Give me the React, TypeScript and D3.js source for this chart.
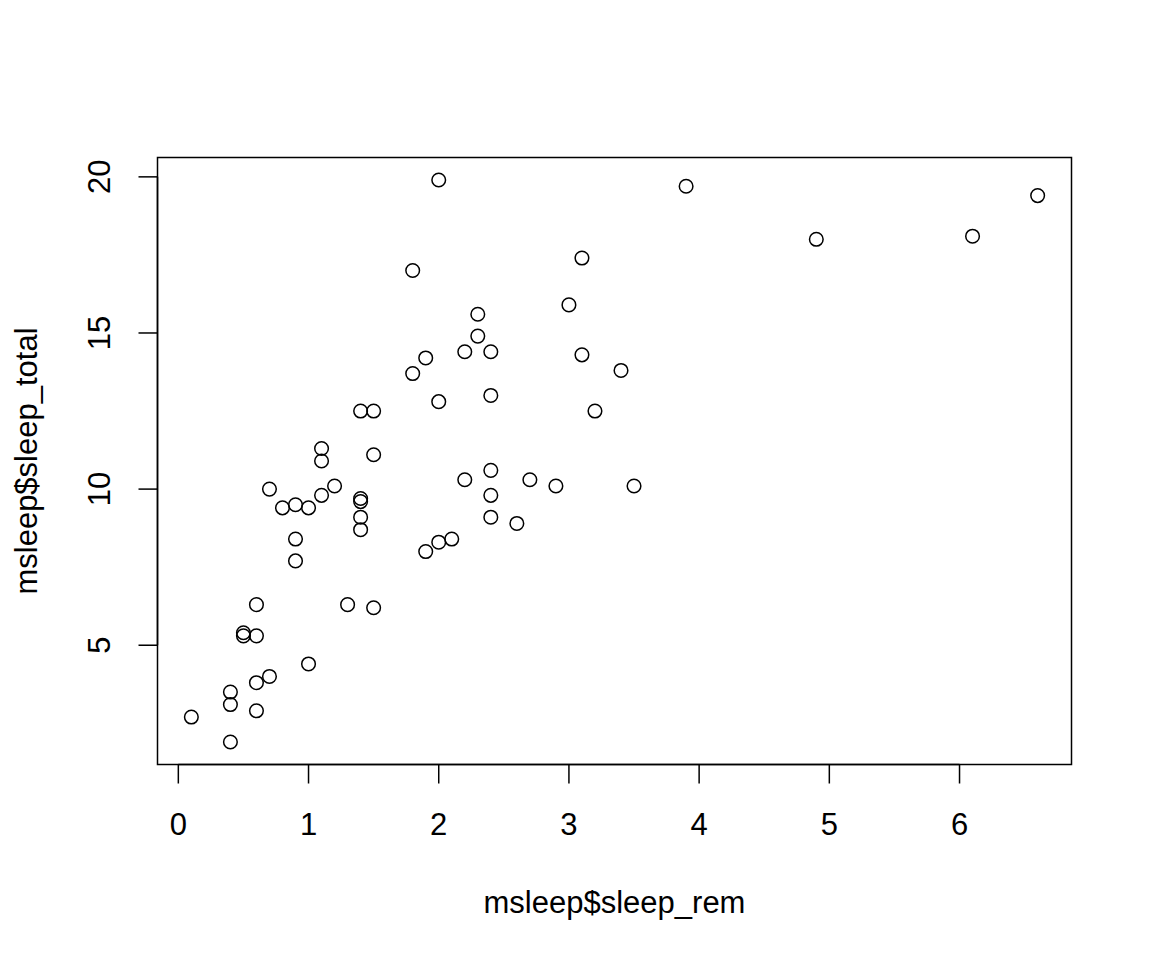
import React from "react";
import * as d3 from "d3";

const sleepRem: number[] = [
  1.8, 2.4, 2.3, 0.7, 2.2, 1.4, 2.9, 0.6, 0.8, 0.7, 1.5, 2.2, 2.0, 1.4, 3.1, 0.5,
  4.9, 3.9, 0.6, 0.4, 3.5, 1.1, 3.2, 1.1, 0.4, 0.1, 1.5, 0.6, 1.9, 0.9, 6.6, 1.2,
  1.9, 3.1, 1.4, 2.0, 0.9, 0.9, 0.6, 1.4, 1.0, 2.7, 1.8, 0.4, 1.5, 6.1, 0.5, 2.4,
  1.4, 2.1, 1.1, 2.4, 3.4, 3.0, 2.0, 2.4, 1.0, 2.3, 2.6, 1.3, 2.4,
];
const sleepTotal: number[] = [
  17.0, 14.4, 14.9, 4.0, 14.4, 8.7, 10.1, 5.3, 9.4, 10.0, 12.5, 10.3, 8.3, 9.1, 17.4, 5.3,
  18.0, 19.7, 2.9, 3.1, 10.1, 10.9, 12.5, 9.8, 1.9, 2.7, 6.2, 6.3, 8.0, 9.5, 19.4, 10.1,
  14.2, 14.3, 12.5, 19.9, 7.7, 8.4, 3.8, 9.7, 9.4, 10.3, 13.7, 3.5, 11.1, 18.1, 5.4, 13.0,
  9.6, 8.4, 11.3, 10.6, 13.8, 15.9, 12.8, 9.1, 4.4, 15.6, 8.9, 6.3, 9.8,
];
const xTicks = [0, 1, 2, 3, 4, 5, 6];
const yTicks = [5, 10, 15, 20];
const xTitle = "msleep$sleep_rem";
const yTitle = "msleep$sleep_total";

export default function App() {
  const W = 1152, H = 960;
  const left = 157.5, right = 1071.5, top = 157.5, bottom = 764.5;
  const [x0, x1] = d3.extent(sleepRem) as [number, number];
  const [y0, y1] = d3.extent(sleepTotal) as [number, number];
  const dx = (x1 - x0) * 0.04, dy = (y1 - y0) * 0.04;
  const x = d3.scaleLinear().domain([x0 - dx, x1 + dx]).range([left, right]);
  const y = d3.scaleLinear().domain([y0 - dy, y1 + dy]).range([bottom, top]);
  const font = "'Liberation Sans', Arial, Helvetica, sans-serif";
  const fs = 31;
  const tick = 19;
  return (
    <svg width={W} height={H} style={{ display: "block", position: "absolute", left: 0, top: 0, background: "#fff" }}>
      <rect x={0} y={0} width={W} height={H} fill="#fff" />
      <rect x={left} y={top} width={right - left} height={bottom - top} fill="none" stroke="#000" strokeWidth={1.5} />
      {sleepRem.map((v, i) => (
        <circle key={i} cx={x(v)} cy={y(sleepTotal[i])} r={6.8} fill="none" stroke="#000" strokeWidth={1.5} />
      ))}
      <line x1={x(xTicks[0])} x2={x(xTicks[xTicks.length - 1])} y1={bottom} y2={bottom} stroke="#000" strokeWidth={1.5} />
      {xTicks.map((t) => (
        <g key={t}>
          <line x1={x(t)} x2={x(t)} y1={bottom} y2={bottom + tick} stroke="#000" strokeWidth={1.5} />
          <text x={x(t)} y={824} textAnchor="middle" dominantBaseline="central" fontFamily={font} fontSize={fs}>{t}</text>
        </g>
      ))}
      <line x1={left} x2={left} y1={y(yTicks[0])} y2={y(yTicks[yTicks.length - 1])} stroke="#000" strokeWidth={1.5} />
      {yTicks.map((t) => (
        <g key={t}>
          <line x1={left} x2={left - tick} y1={y(t)} y2={y(t)} stroke="#000" strokeWidth={1.5} />
          <text transform={`translate(99,${y(t)}) rotate(-90)`} textAnchor="middle" dominantBaseline="central" fontFamily={font} fontSize={fs}>{t}</text>
        </g>
      ))}
      <text x={(left + right) / 2} y={902} textAnchor="middle" dominantBaseline="central" fontFamily={font} fontSize={fs}>{xTitle}</text>
      <text transform={`translate(26,${(top + bottom) / 2}) rotate(-90)`} textAnchor="middle" dominantBaseline="central" fontFamily={font} fontSize={fs}>{yTitle}</text>
    </svg>
  );
}
